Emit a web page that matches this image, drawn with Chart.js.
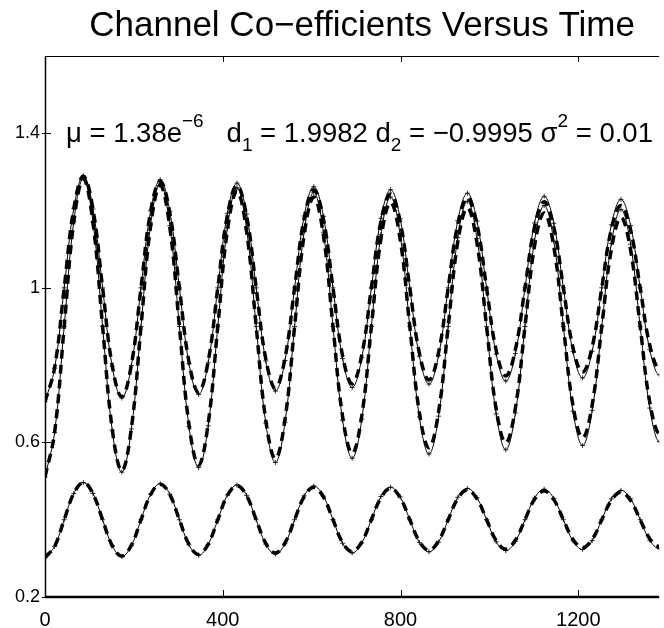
<!DOCTYPE html>
<html>
<head>
<meta charset="utf-8">
<script src="https://cdn.jsdelivr.net/npm/chart.js@4.4.0/dist/chart.umd.min.js"></script>
<style>
  body { margin: 0; background: #fff; }
  #wrap { width: 664px; height: 628px; }
</style>
</head>
<body>
<div id="wrap"><canvas id="coef" width="664" height="628"></canvas></div>
<script>
// muestras (tiempo) y coeficientes
var tiempo = [0,21.6,43.2,64.8,86.4,108,129.6,151.2,172.8,194.4,216,237.6,259.2,280.8,302.4,324,
  345.6,367.2,388.8,410.4,432,453.6,475.2,496.8,518.4,540,561.6,583.2,604.8,626.4,648,669.6,
  691.2,712.8,734.4,756,777.6,799.2,820.8,842.4,864,885.6,907.2,928.8,950.4,972,993.6,1015.2,
  1036.8,1058.4,1080,1101.6,1123.2,1144.8,1166.4,1188,1209.6,1231.2,1252.8,1274.4,1296,1317.6,
  1339.2,1360.8,1382.4,1404];

var c1Real = [0.705,0.793,1.000,1.205,1.289,1.203,1.000,0.799,
  0.718,0.801,1.000,1.197,1.276,1.194,1.000,0.808,
  0.730,0.810,1.000,1.188,1.265,1.186,1.000,0.816,
  0.741,0.818,1.000,1.180,1.254,1.178,1.000,0.824,
  0.752,0.826,1.000,1.173,1.243,1.171,1.000,0.831,
  0.762,0.833,1.000,1.165,1.233,1.164,1.000,0.838,
  0.772,0.840,1.000,1.158,1.223,1.157,1.000,0.845,
  0.782,0.847,1.000,1.152,1.213,1.150,1.000,0.852,
  0.791,0.853];
var c1Est = [0.705,0.792,1.000,1.206,1.290,1.204,1.000,0.797,
  0.715,0.799,1.000,1.199,1.280,1.198,1.000,0.804,
  0.724,0.806,1.000,1.193,1.271,1.191,1.000,0.811,
  0.733,0.812,1.000,1.186,1.262,1.185,1.000,0.817,
  0.742,0.819,1.000,1.180,1.254,1.179,1.000,0.823,
  0.751,0.825,1.000,1.174,1.245,1.173,1.000,0.829,
  0.759,0.830,1.000,1.168,1.237,1.167,1.000,0.835,
  0.767,0.836,1.000,1.163,1.229,1.161,1.000,0.840,
  0.775,0.842];

var c2Real = [0.510,0.626,0.900,1.171,1.282,1.168,0.900,0.635,
  0.527,0.637,0.900,1.160,1.265,1.157,0.900,0.646,
  0.542,0.649,0.900,1.149,1.250,1.146,0.900,0.657,
  0.558,0.659,0.900,1.138,1.235,1.136,0.900,0.667,
  0.572,0.669,0.900,1.128,1.221,1.126,0.900,0.677,
  0.586,0.679,0.900,1.119,1.207,1.116,0.900,0.686,
  0.599,0.689,0.900,1.109,1.194,1.107,0.900,0.695,
  0.612,0.697,0.900,1.100,1.182,1.098,0.900,0.704,
  0.624,0.706];
var c2Est = [0.510,0.626,0.900,1.172,1.284,1.170,0.900,0.632,
  0.523,0.635,0.900,1.163,1.271,1.161,0.900,0.641,
  0.535,0.643,0.900,1.155,1.259,1.152,0.900,0.650,
  0.548,0.652,0.900,1.146,1.247,1.144,0.900,0.658,
  0.559,0.660,0.900,1.138,1.235,1.136,0.900,0.666,
  0.570,0.668,0.900,1.130,1.224,1.128,0.900,0.674,
  0.581,0.676,0.900,1.122,1.213,1.121,0.900,0.681,
  0.592,0.683,0.900,1.115,1.203,1.113,0.900,0.689,
  0.602,0.690];

var c3Real = [0.302,0.331,0.400,0.468,0.496,0.467,0.400,0.333,
  0.306,0.334,0.400,0.465,0.492,0.465,0.400,0.336,
  0.310,0.337,0.400,0.463,0.488,0.462,0.400,0.339,
  0.314,0.340,0.400,0.460,0.484,0.459,0.400,0.341,
  0.318,0.342,0.400,0.457,0.481,0.457,0.400,0.344,
  0.321,0.345,0.400,0.455,0.477,0.454,0.400,0.346,
  0.324,0.347,0.400,0.453,0.474,0.452,0.400,0.349,
  0.328,0.349,0.400,0.450,0.471,0.450,0.400,0.351,
  0.331,0.351];
var c3Est = [0.302,0.331,0.400,0.468,0.496,0.468,0.400,0.333,
  0.305,0.333,0.400,0.466,0.493,0.466,0.400,0.335,
  0.308,0.336,0.400,0.464,0.490,0.463,0.400,0.337,
  0.311,0.338,0.400,0.462,0.487,0.461,0.400,0.339,
  0.314,0.340,0.400,0.460,0.484,0.459,0.400,0.341,
  0.317,0.342,0.400,0.458,0.481,0.457,0.400,0.343,
  0.320,0.344,0.400,0.456,0.479,0.455,0.400,0.345,
  0.323,0.346,0.400,0.454,0.476,0.454,0.400,0.347,
  0.325,0.347];

var ticksX = [0, 400, 800, 1200];
var ticksY = [0.2, 0.6, 1, 1.4];

var titulo = 'Channel Co\u2212efficients Versus Time';
// texto de la anotacion: [texto, modo]
var nota = [
  ['\u03bc = 1.38e', ''], ['\u22126', 'sup'], ['   d', ''], ['1', 'sub'],
  [' = 1.9982 d', ''], ['2', 'sub'], [' = \u22120.9995 \u03c3', ''], ['2', 'sup'], [' = 0.01', '']
];

var fuente = '"Liberation Sans", Arial, Helvetica, sans-serif';

function puntos(arr){
  var out = [];
  for (var i = 0; i < arr.length; i++) out.push({x: tiempo[i], y: arr[i]});
  return out;
}

function serieReal(arr){
  return { data: puntos(arr), borderColor: '#000', borderWidth: 3.5, borderDash: [9, 6],
    pointRadius: 0, tension: 0.4, order: 1 };
}
function serieEst(arr){
  return { data: puntos(arr), borderColor: '#000', borderWidth: 1, pointStyle: 'cross',
    pointRadius: 2.5, pointBorderWidth: 0.8, pointBorderColor: '#000', tension: 0.4, order: 2 };
}

var marco = {
  id: 'marco',
  afterDraw: function(chart){
    var ctx = chart.ctx, a = chart.chartArea, sx = chart.scales.x, sy = chart.scales.y;
    ctx.save();
    ctx.strokeStyle = '#000';
    ctx.lineWidth = 1;
    ctx.beginPath(); ctx.moveTo(a.left, a.top + 0.5); ctx.lineTo(a.right, a.top + 0.5); ctx.stroke();
    ctx.lineWidth = 1.5;
    ctx.beginPath(); ctx.moveTo(a.left + 0.5, a.top); ctx.lineTo(a.left + 0.5, a.bottom); ctx.stroke();
    ctx.lineWidth = 2.5;
    ctx.beginPath(); ctx.moveTo(a.left, a.bottom); ctx.lineTo(a.right, a.bottom); ctx.stroke();
    ctx.lineWidth = 1;
    ticksX.forEach(function(v){
      var px = Math.round(sx.getPixelForValue(v)) + 0.5;
      ctx.beginPath(); ctx.moveTo(px, a.top); ctx.lineTo(px, a.top + 6);
      ctx.moveTo(px, a.bottom); ctx.lineTo(px, a.bottom - 7); ctx.stroke();
    });
    ticksY.forEach(function(v){
      var py = Math.round(sy.getPixelForValue(v)) + 0.5;
      ctx.beginPath(); ctx.moveTo(a.left - 3, py); ctx.lineTo(a.left + 6, py); ctx.stroke();
    });

    // titulo
    ctx.fillStyle = '#000';
    ctx.font = '35px ' + fuente;
    ctx.textAlign = 'center';
    ctx.textBaseline = 'alphabetic';
    var cx = (a.left + sx.getPixelForValue(1400)) / 2 + 6;
    ctx.fillText(titulo, cx, 36);

    // anotacion
    ctx.textAlign = 'left';
    var x = a.left + 21, base = a.top + 86;
    nota.forEach(function(t){
      var y = base;
      if (t[1] === 'sup') { ctx.font = '19px ' + fuente; y = base - 15; }
      else if (t[1] === 'sub') { ctx.font = '19px ' + fuente; y = base + 9; }
      else ctx.font = '27.5px ' + fuente;
      ctx.fillText(t[0], x, y);
      x += ctx.measureText(t[0]).width;
    });
    ctx.restore();
  }
};

new Chart(document.getElementById('coef').getContext('2d'), {
  type: 'line',
  data: {
    datasets: [
      serieReal(c1Real), serieReal(c2Real), serieReal(c3Real),
      serieEst(c1Est), serieEst(c2Est), serieEst(c3Est)
    ]
  },
  options: {
    responsive: false,
    animation: false,
    devicePixelRatio: 1,
    layout: { padding: { top: 56, left: 0, right: 0, bottom: 0 } },
    plugins: { legend: { display: false }, tooltip: { enabled: false }, title: { display: false } },
    scales: {
      x: {
        type: 'linear', min: 0, max: 1382,
        grid: { display: false, drawTicks: false }, border: { display: false },
        afterBuildTicks: function(s){ s.ticks = ticksX.map(function(v){ return {value: v}; }); },
        afterFit: function(s){ s.height = 31; },
        ticks: { color: '#000', padding: 11, maxRotation: 0, font: { size: 20, family: fuente },
          callback: function(v){ return String(v); } }
      },
      y: {
        min: 0.2, max: 1.6,
        grid: { display: false, drawTicks: false }, border: { display: false },
        afterBuildTicks: function(s){ s.ticks = ticksY.map(function(v){ return {value: v}; }); },
        afterFit: function(s){ s.width = 45; },
        ticks: { color: '#000', padding: 5, font: { size: 18, family: fuente },
          callback: function(v){ return String(v); } }
      }
    }
  },
  plugins: [marco]
});
</script>
</body>
</html>
